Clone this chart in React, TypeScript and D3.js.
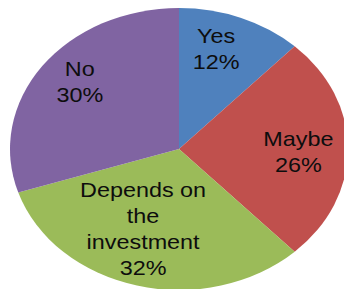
import React from 'react';
import * as d3 from 'd3';

const categories = ['Yes', 'Maybe', 'Depends on the investment', 'No'];
const values = [12, 26, 32, 30];
const labelLines = [['Yes'], ['Maybe'], ['Depends on', 'the', 'investment'], ['No']];
const colors = ['#4F81BD', '#C0504D', '#9BBB59', '#8064A2'];

// small hand nudges so labels sit where Excel put them
const nudge = [
  [-6.5, -8.5],
  [1, 3],
  [-6.5, -16],
  [-3.5, -8.5],
];

const W = 344;
const H = 289;
const cx = 179;
const cy = 149;
const ry = 141;
const sx = 169 / 141; // the pie is stretched sideways
const lineH = 26;
const fontSize = 20;

export default function App() {
  const pie = d3.pie<number>().sort(null).value((d) => d);
  const arcs = pie(values);
  const arc = d3.arc<d3.PieArcDatum<number>>().innerRadius(0).outerRadius(ry);
  const labelArc = d3
    .arc<d3.PieArcDatum<number>>()
    .innerRadius(ry * 0.7)
    .outerRadius(ry * 0.7);

  return (
    <svg
      width={W}
      height={H}
      style={{ position: 'absolute', left: 0, top: 0, background: '#fff' }}
    >
      <g transform={`translate(${cx},${cy}) scale(${sx},1)`}>
        {arcs.map((a, i) => (
          <path key={categories[i]} d={arc(a) || ''} fill={colors[i]} />
        ))}
      </g>
      {arcs.map((a, i) => {
        const [lx, ly] = labelArc.centroid(a);
        const x = cx + lx * sx + nudge[i][0];
        const y = cy + ly + nudge[i][1];
        const lines = [...labelLines[i], `${values[i]}%`];
        const n = lines.length;
        return (
          <g key={'l' + i} transform={`translate(${x},${y}) scale(1.17,1)`}>
            {lines.map((t, j) => (
              <text
                key={j}
                x={0}
                y={-((n - 1) * lineH) / 2 + j * lineH + 7}
                textAnchor="middle"
                fontFamily="'Liberation Sans', Arial, sans-serif"
                fontSize={fontSize}
                fill="#0d0d0d"
              >
                {t}
              </text>
            ))}
          </g>
        );
      })}
    </svg>
  );
}
